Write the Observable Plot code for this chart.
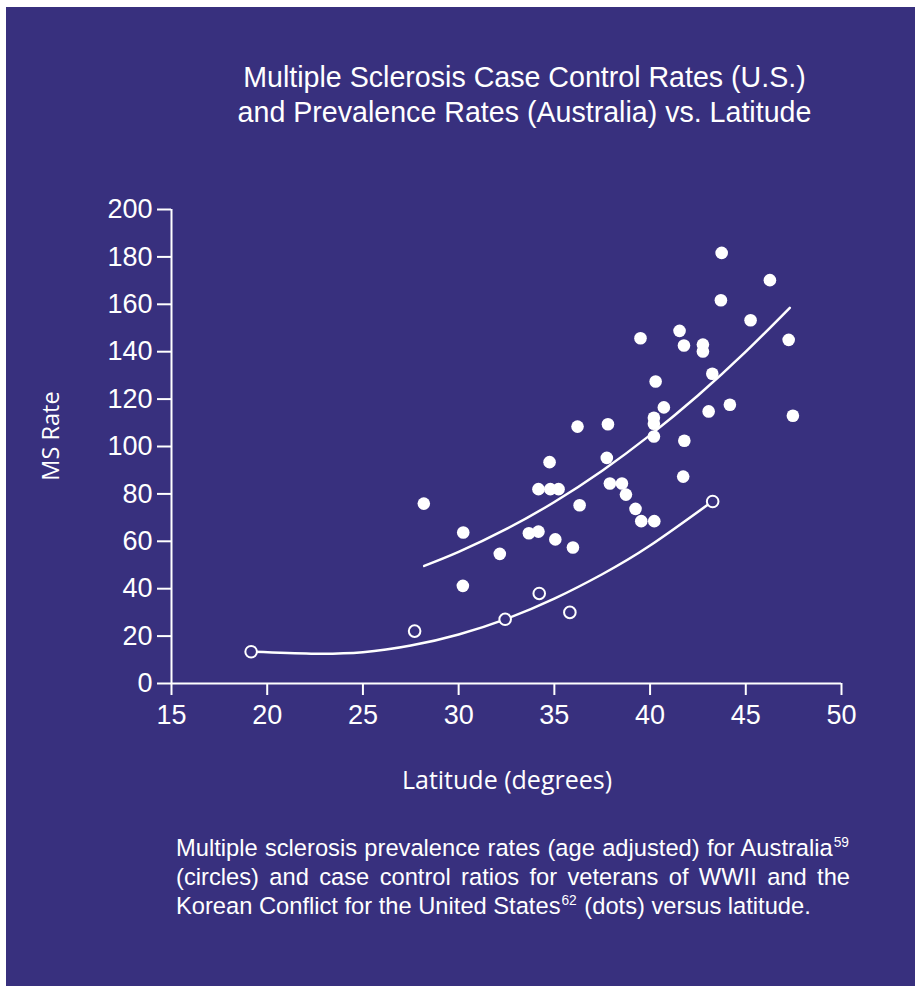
<!DOCTYPE html>
<html>
<head>
<meta charset="utf-8">
<script src="https://cdn.jsdelivr.net/npm/d3@7"></script>
<script src="https://cdn.jsdelivr.net/npm/@observablehq/plot@0.6"></script>
<style>
  html, body { margin: 0; padding: 0; background: #ffffff; }
  #page { position: relative; width: 915px; height: 986px; overflow: hidden; }
  #bg { position: absolute; left: 6px; top: 7px; width: 909px; height: 979px; background: rgb(56,48,126); }
  .t { position: absolute; color: #ffffff; white-space: nowrap; }
  #title { left: 124.5px; top: 60px; width: 800px; text-align: center; font-family: "Liberation Sans", Arial, sans-serif; font-size: 28.6px; line-height: 35px; }
  .cap { left: 176px; width: 674px; font-family: "Liberation Sans", Arial, sans-serif; font-size: 23.7px; line-height: 29px; text-align: left; }
  .cap.j { text-align: justify; text-align-last: justify; }
  .cap sup { font-size: 0.58em; line-height: 1; vertical-align: baseline; position: relative; top: -0.62em; margin-left: 1px; margin-right: 1px; }
  #xlabel { left: 507px; top: 767px; transform: translateX(-50%); font-family: "Open Sans", sans-serif; font-size: 25px; line-height: 25px; }
  #ylabel { left: 51px; top: 436px; transform: translate(-50%, -50%) rotate(-90deg); font-family: "Open Sans", sans-serif; font-size: 23.5px; line-height: 23.5px; }
  #chart { position: absolute; left: 0; top: 150px; }
</style>
</head>
<body>
<div id="page">
  <div id="bg"></div>
  <div id="title" class="t">Multiple Sclerosis Case Control Rates (U.S.)<br>and Prevalence Rates (Australia) vs. Latitude</div>
  <div id="chart"></div>
  <div id="xlabel" class="t">Latitude (degrees)</div>
  <div id="ylabel" class="t">MS Rate</div>
  <div class="t cap j" style="top:834px">Multiple sclerosis prevalence rates (age adjusted) for Australia<sup>59</sup></div>
  <div class="t cap j" style="top:863px">(circles) and case control ratios for veterans of WWII and the</div>
  <div class="t cap" style="top:892px">Korean Conflict for the United States<sup>62</sup> (dots) versus latitude.</div>
</div>
<script>
// U.S. case control ratios (dots)
const usLatitude = [28.18, 30.24, 30.22, 32.15, 33.67, 34.17, 34.17, 34.79, 35.22, 34.75, 35.05, 35.97, 36.32, 36.21, 37.80, 37.74, 37.90, 38.53, 38.74, 39.24, 39.54, 40.22, 39.50, 40.29, 40.20, 40.20, 40.20, 40.72, 41.54, 41.77, 41.79, 41.73, 42.76, 42.76, 43.25, 43.06, 43.74, 43.70, 44.17, 45.25, 46.26, 47.24, 47.46];
const usRate     = [75.9, 63.7, 41.2, 54.7, 63.4, 64.1, 82.0, 82.0, 82.0, 93.4, 60.8, 57.4, 75.2, 108.4, 109.4, 95.2, 84.4, 84.4, 79.7, 73.7, 68.5, 68.5, 145.7, 127.4, 112.1, 109.6, 104.2, 116.5, 148.8, 142.6, 102.4, 87.3, 143.0, 140.1, 130.7, 114.8, 181.7, 161.7, 117.6, 153.3, 170.2, 145.0, 113.0];

// Australia prevalence rates (circles)
const auLatitude = [19.16, 27.70, 32.43, 34.21, 35.81, 43.27];
const auRate     = [13.4, 22.1, 27.1, 38.0, 30.0, 76.8];

// Trend curves
const usCurveLatitude = [28.2, 30, 32.5, 35, 37.5, 40, 42.5, 45, 47.3];
const usCurveRate     = [49.6, 55.5, 65.2, 76.6, 89.8, 104.8, 121.5, 140.0, 158.5];
const auCurveLatitude = [19.2, 22.3, 25, 27.5, 30, 32.5, 35, 37.5, 40, 43.3];
const auCurveRate     = [13.4, 12.6, 13.2, 16.0, 20.7, 27.3, 35.8, 46.1, 58.2, 77.1];

// Axis ticks
const xTicks = [15, 20, 25, 30, 35, 40, 45, 50];
const yTicks = [0, 20, 40, 60, 80, 100, 120, 140, 160, 180, 200];

const bg = "rgb(56,48,126)";
const us = usLatitude.map((x, i) => ({x, y: usRate[i]}));
const au = auLatitude.map((x, i) => ({x, y: auRate[i]}));
const usCurve = usCurveLatitude.map((x, i) => ({x, y: usCurveRate[i]}));
const auCurve = auCurveLatitude.map((x, i) => ({x, y: auCurveRate[i]}));

const chart = Plot.plot({
  width: 915,
  height: 650,
  marginLeft: 171,
  marginRight: 74,
  marginTop: 59,
  marginBottom: 117,
  style: {background: "transparent", color: "white", fontFamily: "'Liberation Sans', Arial, sans-serif", fontSize: "27px", overflow: "visible"},
  x: {domain: [15, 50]},
  y: {domain: [0, 200]},
  marks: [
    Plot.axisX({ticks: xTicks, tickSize: 12, tickPadding: 9, strokeWidth: 2, label: null}),
    Plot.axisY({ticks: yTicks, tickSize: 14, tickPadding: 5, strokeWidth: 2, label: null}),
    Plot.ruleX([15], {y1: 0, y2: 200, stroke: "white", strokeWidth: 2}),
    Plot.ruleY([0], {x1: 15, x2: 50, stroke: "white", strokeWidth: 2}),
    Plot.line(usCurve, {x: "x", y: "y", curve: "natural", stroke: "white", strokeWidth: 2.5}),
    Plot.line(auCurve, {x: "x", y: "y", curve: "natural", stroke: "white", strokeWidth: 2.5}),
    Plot.dot(us, {x: "x", y: "y", r: 6.3, fill: "white", stroke: "none"}),
    Plot.dot(au, {x: "x", y: "y", r: 5.8, fill: bg, stroke: "white", strokeWidth: 2})
  ]
});
document.getElementById("chart").appendChild(chart);
</script>
</body>
</html>
